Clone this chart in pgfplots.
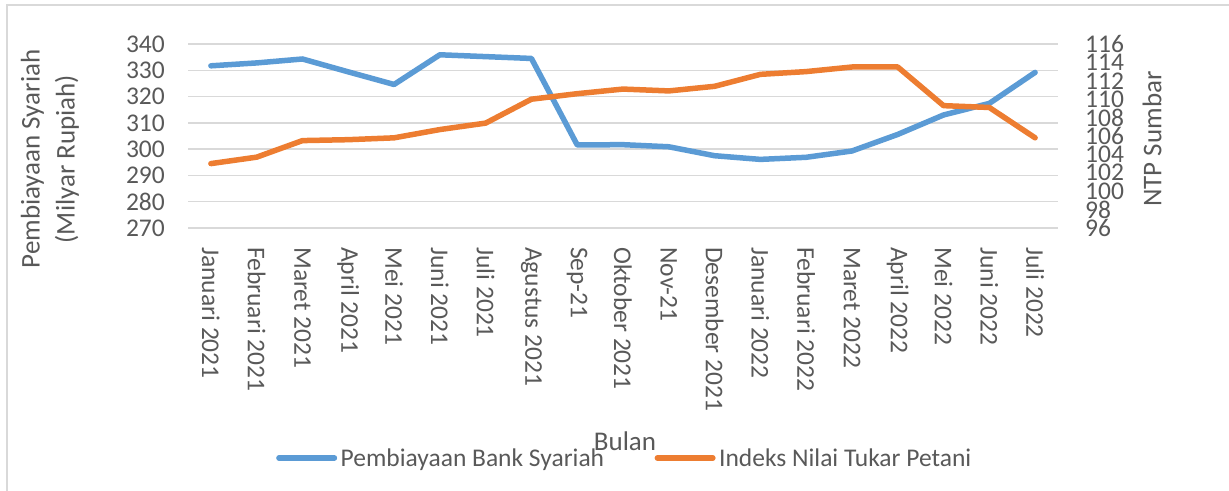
\documentclass[border=0pt]{standalone}
\usepackage{pgfplots}
\pgfplotsset{compat=1.18}
\usepackage{pgfplotstable}
\usepackage{fontspec}
\setmainfont{Carlito}
\definecolor{txt}{HTML}{595959}
\definecolor{gridc}{HTML}{D9D9D9}
\definecolor{blu}{HTML}{5B9BD5}
\definecolor{org}{HTML}{ED7D31}

\pgfplotstableread{
x pby
0 331.7
1 332.8
2 334.3
3 329.4
4 324.6
5 335.9
6 335.2
7 334.5
8 301.6
9 301.7
10 300.9
11 297.5
12 296.1
13 296.9
14 299.3
15 305.6
16 313.0
17 317.4
18 329.2
}\bank

\pgfplotstableread{
x ntp
0 103.0
1 103.7
2 105.5
3 105.6
4 105.8
5 106.7
6 107.4
7 110.0
8 110.6
9 111.1
10 110.9
11 111.4
12 112.7
13 113.0
14 113.5
15 113.5
16 109.3
17 109.1
18 105.8
}\ntp

\begin{document}
\begin{tikzpicture}
\path[use as bounding box] (0,0) rectangle (1229bp,491bp);
\draw[gridc, line width=1.5bp] (7bp,-10bp) -- (7bp,486bp) -- (1240bp,486bp);
\begin{axis}[
  at={(188bp,263bp)}, anchor=south west, scale only axis,
  width=870bp, height=184bp,
  xmin=-0.5, xmax=18.5, ymin=270, ymax=340,
  ytick={270,280,...,340},
  xtick={0,...,18},
  xticklabels={Januari 2021,Februari 2021,Maret 2021,April 2021,Mei 2021,Juni 2021,Juli 2021,Agustus 2021,Sep-21,Oktober 2021,Nov-21,Desember 2021,Januari 2022,Februari 2022,Maret 2022,April 2022,Mei 2022,Juni 2022,Juli 2022},
  ymajorgrids, grid style={gridc, line width=1.5bp},
  axis line style={draw=none}, major tick length=0pt,
  tick label style={font=\fontsize{25.5bp}{28bp}\selectfont, text=txt},
  /pgf/number format/assume math mode=true,
  yticklabel style={anchor=east, inner sep=0pt, xshift=-23bp},
  xticklabel style={inner sep=0pt, anchor=west, rotate=-90, xshift=19bp},
  legend style={draw=none, fill=none, at={(0.0977,-1.25)}, anchor=west,
    font=\fontsize{25.5bp}{28bp}\selectfont, text=txt,
    nodes={inner sep=3.5bp},
    /tikz/every even column/.append style={column sep=47bp}},
  legend columns=2, legend cell align=left,
  legend image code/.code={\draw[#1, line cap=round] (2.75bp,0bp) -- (58.25bp,0bp);},
]
\addplot[blu, line width=5.5bp, line cap=round, line join=round] table[x=x,y=pby] {\bank};
\addlegendentry{Pembiayaan Bank Syariah}
\addlegendimage{org, line width=5.5bp, line cap=round}
\addlegendentry{Indeks Nilai Tukar Petani}
\end{axis}
\begin{axis}[
  at={(188bp,263bp)}, anchor=south west, scale only axis,
  width=870bp, height=184bp,
  xmin=-0.5, xmax=18.5, ymin=96, ymax=116,
  ytick={96,98,...,116}, xtick=\empty,
  axis line style={draw=none}, major tick length=0pt,
  yticklabel pos=right,
  tick label style={font=\fontsize{25.5bp}{28bp}\selectfont, text=txt},
  /pgf/number format/assume math mode=true,
  yticklabel style={anchor=west, inner sep=0pt, xshift=27bp},
]
\addplot[org, line width=5.5bp, line cap=round, line join=round] table[x=x,y=ntp] {\ntp};
\end{axis}
\node[rotate=90, align=center, text=txt, font=\fontsize{27bp}{35bp}\selectfont] at (50bp,332bp) {Pembiayaan Syariah\\(Milyar Rupiah)};
\node[rotate=90, text=txt, font=\fontsize{27bp}{32bp}\selectfont] at (1152bp,352bp) {NTP Sumbar};
\node[text=txt, font=\fontsize{27bp}{32bp}\selectfont] at (625bp,50bp) {Bulan};
\end{tikzpicture}
\end{document}
